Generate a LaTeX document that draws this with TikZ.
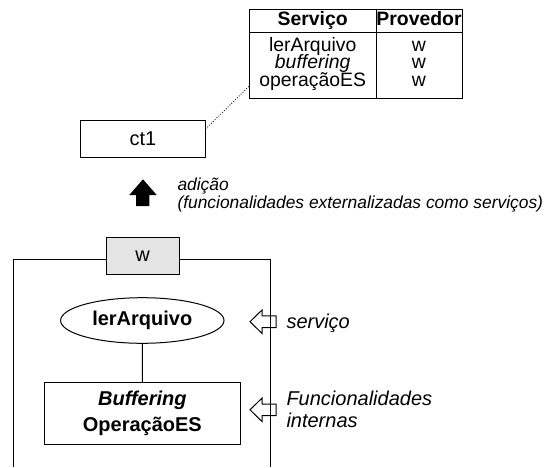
\documentclass[tikz,border=0pt]{standalone}
\usepackage{fontspec}
\setmainfont{Liberation Sans}
\usepackage{xcolor}
\definecolor{cinza}{RGB}{228,228,228}
\usetikzlibrary{shapes.geometric}
\newcommand{\tam}{\fontsize{10}{11.2}\selectfont}

\begin{document}
\begin{tikzpicture}[x=0.5pt,y=-0.5pt,line width=0.5pt,
        txt/.style={inner sep=0, font=\tam},
        linha/.style={inner sep=0, font=\fontsize{9.7}{11}\selectfont, text height=6.8pt, text depth=1.6pt},
        caixa/.style={draw, inner sep=0, align=center, font=\fontsize{10}{12.8}\selectfont}]
    \useasboundingbox (0,0) rectangle (547,467);
    % tabela de servicos
    \node[draw, inner sep=0, minimum width=106.5pt, minimum height=44.5pt] (tab) at (355.8,53.8) {};
    \draw (376,9.3) -- (376,98.3);
    \draw (249.3,32.3) -- (462.3,32.3);
    \node[linha, anchor=base] (servico) at (312.7,25) {\textbf{Serviço}};
    \node[linha, anchor=base] (provedor) at (419,25) {\textbf{Provedor}};
    \foreach \s/\y [count=\i] in {lerArquivo/51.7, \textit{buffering}/68.3, operaçãoES/86.7} {
            \node[linha, anchor=base] (s\i) at (312.7,\y) {\s};
            \node[linha, anchor=base] (p\i) at (419,\y) {w};
        }
    \node[caixa, minimum width=62.2pt, minimum height=18.3pt] (ct1) at (142.85,139) {ct1};
    \draw[line width=0.4pt, dash pattern=on 0.45pt off 0.85pt] (ct1.9) -- (tab.197);
    % adicao
    \fill (143,179.3) -- (156.7,195) -- (149.3,195) -- (149.3,206) -- (136,206) -- (136,195) -- (129.3,195) -- cycle;
    \node[txt, anchor=west, align=left, font=\fontsize{8.7}{7.8}\selectfont\itshape] (adicao) at (177,195) {adição\\(funcionalidades externalizadas como serviços)};
    % componente w
    \draw (13,467) |- (270.3,259.7) -- (270.3,467);
    \node[caixa, fill=cinza, minimum width=36.5pt, minimum height=18.3pt] (w) at (142.5,256) {w};
    \node[caixa, ellipse, minimum width=81.7pt, minimum height=22.8pt] (ler) at (142.3,320.5) {\textbf{lerArquivo}};
    \node[caixa, minimum width=98.35pt, minimum height=30.65pt] (buf) at (142.35,413.35) {\textbf{\textit{Buffering}}\\\textbf{OperaçãoES}};
    \draw (ler) -- (buf);
    \foreach \y in {321.7,409.8}
    \draw (250,\y) -- (262,\y-11.7) -- (262,\y-5.8) -- (276,\y-5.8) -- (276,\y+5.8) -- (262,\y+5.8) -- (262,\y+11.7) -- cycle;
    \node[txt, anchor=base west, font=\tam\itshape] (serv) at (286,328.3) {serviço};
    \node[txt, anchor=west, align=left, font=\fontsize{10}{11.15}\selectfont\itshape] (func) at (286,409) {Funcionalidades\\internas};
\end{tikzpicture}
\end{document}
